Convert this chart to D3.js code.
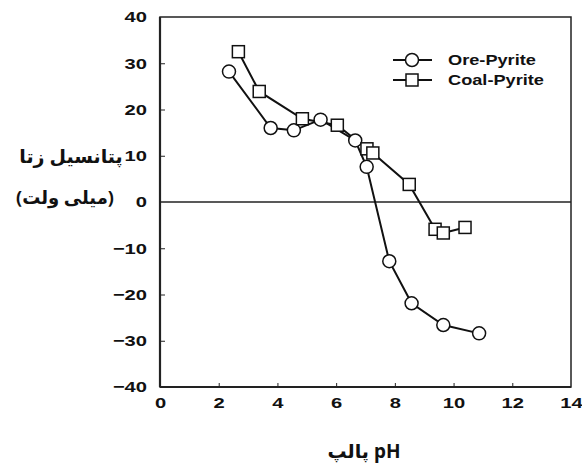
<!DOCTYPE html>
<html>
<head>
<meta charset="utf-8">
<script src="https://cdn.jsdelivr.net/npm/d3@7"></script>
<style>
body{margin:0;background:#fff;}
text{font-family:"Liberation Sans",Arial,sans-serif;font-weight:bold;fill:#111;}
</style>
</head>
<body>
<svg id="c" width="582" height="463"></svg>
<script>
const orePH   = [2.35, 3.77, 4.56, 5.47, 6.65, 7.04, 7.81, 8.57, 9.65, 10.87];
const oreZeta = [28.2, 16.0, 15.5, 17.8, 13.3, 7.6, -12.8, -21.9, -26.6, -28.4];
const coalPH   = [2.67, 3.38, 4.85, 6.04, 7.05, 7.25, 8.49, 9.37, 9.65, 10.39];
const coalZeta = [32.5, 23.9, 18.0, 16.6, 11.5, 10.6, 3.8, -5.9, -6.7, -5.5];
const xTicks = [0, 2, 4, 6, 8, 10, 12, 14];
const yTicks = [-40, -30, -20, -10, 0, 10, 20, 30, 40];
const seriesNames = ["Ore-Pyrite", "Coal-Pyrite"];
const yTitle = ["پتانسیل زتا", "(میلی ولت)"];
const xTitle = "pH پالپ";

const SX = 1.3; // horizontal stretch of latin text seen in the reference
const svg = d3.select("#c");
const L = 160, R = 571, T = 17, B = 387;
const x = d3.scaleLinear().domain([0, 14]).range([L, R]);
const y = d3.scaleLinear().domain([-40, 40]).range([B, T]);

// axes with inward ticks
const gx = svg.append("g").attr("transform", `translate(0,${B})`)
  .call(d3.axisBottom(x).tickValues(xTicks).tickSizeInner(-4).tickSizeOuter(0).tickPadding(8).tickFormat(d3.format("d")));
const gy = svg.append("g").attr("transform", `translate(${L},0)`)
  .call(d3.axisLeft(y).tickValues(yTicks).tickSizeInner(-5).tickSizeOuter(0).tickPadding(13).tickFormat(d3.format("d")));
[gx, gy].forEach(g => {
  g.select(".domain").remove();
  g.selectAll(".tick line").attr("stroke", "#222").attr("stroke-width", 1);
  g.selectAll(".tick text").style("font-size", "15.5px").style("font-family", "Liberation Sans, Arial, sans-serif").style("font-weight", "bold").attr("fill", "#111");
});
gx.selectAll(".tick text").attr("dy", "0.85em").attr("transform", `scale(${SX},1)`);
gy.selectAll(".tick text").attr("x", -13 / SX).attr("transform", `scale(${SX},1)`);
gx.selectAll(".tick").filter(d => d === 0 || d === 14).select("line").remove();
gy.selectAll(".tick").filter(d => d === 40 || d === -40 || d === 0).select("line").remove();

// frame
svg.append("rect").attr("x", L).attr("y", T).attr("width", R - L).attr("height", B - T)
  .attr("fill", "none").attr("stroke", "#222").attr("stroke-width", 1.5);
svg.append("line").attr("x1", L).attr("x2", L).attr("y1", T).attr("y2", B).attr("stroke", "#222").attr("stroke-width", 2.2);
svg.append("line").attr("x1", L).attr("x2", R).attr("y1", B).attr("y2", B).attr("stroke", "#222").attr("stroke-width", 2.2);
// zero line
svg.append("line").attr("x1", L).attr("x2", R).attr("y1", y(0)).attr("y2", y(0)).attr("stroke", "#222").attr("stroke-width", 1.3);

const line = d3.line().x(d => x(d[0])).y(d => y(d[1]));
const ore = orePH.map((p, i) => [p, oreZeta[i]]);
const coal = coalPH.map((p, i) => [p, coalZeta[i]]);

svg.append("path").datum(ore).attr("d", line).attr("fill", "none").attr("stroke", "#111").attr("stroke-width", 2);
svg.append("path").datum(coal).attr("d", line).attr("fill", "none").attr("stroke", "#111").attr("stroke-width", 2);

svg.selectAll(".ore").data(ore).enter().append("circle")
  .attr("cx", d => x(d[0])).attr("cy", d => y(d[1])).attr("r", 6.5)
  .attr("fill", "#fff").attr("stroke", "#111").attr("stroke-width", 1.5);
const s = 12;
svg.selectAll(".coal").data(coal).enter().append("rect")
  .attr("x", d => x(d[0]) - s / 2).attr("y", d => y(d[1]) - s / 2).attr("width", s).attr("height", s)
  .attr("fill", "#fff").attr("stroke", "#111").attr("stroke-width", 1.5);

// legend
const lg = svg.append("g");
[0, 1].forEach(i => {
  const ly = 60 + i * 20;
  lg.append("line").attr("x1", 393).attr("x2", 432).attr("y1", ly).attr("y2", ly).attr("stroke", "#111").attr("stroke-width", 2);
  if (i === 0) lg.append("circle").attr("cx", 412).attr("cy", ly).attr("r", 6.5).attr("fill", "#fff").attr("stroke", "#111").attr("stroke-width", 1.5);
  else lg.append("rect").attr("x", 412 - 6).attr("y", ly - 6).attr("width", 12).attr("height", 12).attr("fill", "#fff").attr("stroke", "#111").attr("stroke-width", 1.5);
  lg.append("text").attr("transform", `translate(448,${ly}) scale(${SX},1)`).attr("dy", "0.36em").style("font-size", "14px").text(seriesNames[i]);
});

// axis titles
svg.append("text").attr("x", 71).attr("y", 163).attr("text-anchor", "middle").style("font-size", "19px")
  .style("font-family", "'Noto Sans', 'DejaVu Sans', sans-serif").text(yTitle[0]);
svg.append("text").attr("x", 65).attr("y", 204).attr("text-anchor", "middle").style("font-size", "18px")
  .style("font-family", "'Noto Sans', 'DejaVu Sans', sans-serif").text(yTitle[1]);
svg.append("text").attr("x", 364).attr("y", 458).attr("text-anchor", "middle").style("font-size", "19px")
  .style("font-family", "'Noto Sans', 'DejaVu Sans', sans-serif").attr("direction", "rtl").text(xTitle);
</script>
</body>
</html>
